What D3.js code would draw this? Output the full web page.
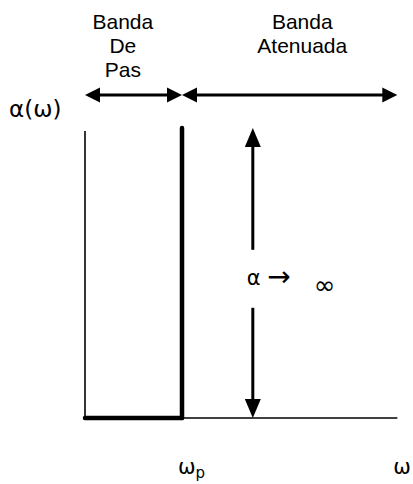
<!DOCTYPE html>
<html>
<head>
<meta charset="utf-8">
<script src="https://cdn.jsdelivr.net/npm/d3@7"></script>
<style>
  body { margin: 0; background: #fff; }
  text { font-family: "Liberation Sans", Arial, sans-serif; fill: #000; }
  text.greek { font-family: "DejaVu Sans", sans-serif; }
</style>
</head>
<body>
<div id="chart"></div>
<script>
// frequency positions (normalised to wp = 1)
const bandEdges = [0, 1, 3.22];
const bandLabels = [["Banda", "De", "Pas"], ["Banda", "Atenuada"]];
const bandLabelW = [0.39, 2.24];
const omegaLabels = [
    {main: "ω", sub: "p", w: 1},
    {main: "ω", sub: "", w: 3.22}
];
// attenuation curve segments: [w0, a0, w1, a1, thick?]
const curveSegs = [
    [0, 0.99, 0, 0, false],
    [0, 0, 1, 0, true],
    [1, 0, 1, 1, true],
    [1, 0, 3.22, 0, false]
];
const infArrowW = 1.73;
const infArrowRange = [1, 0];
const infGap = [0.58, 0.38];
const bandArrowA = 1.114;

const width = 413, height = 484;

const svg = d3.select("#chart").append("svg")
    .attr("width", width)
    .attr("height", height);

const x = d3.scaleLinear().domain([0, 1]).range([85, 182]);
const y = d3.scaleLinear().domain([0, 1]).range([418, 128]);

function head(px, py, dir, len, half) {
    // dir: "l","r","u","d" - tip at (px,py)
    let pts;
    if (dir === "l") pts = [[px, py], [px + len, py - half], [px + len, py + half]];
    if (dir === "r") pts = [[px, py], [px - len, py - half], [px - len, py + half]];
    if (dir === "u") pts = [[px, py], [px - half, py + len], [px + half, py + len]];
    if (dir === "d") pts = [[px, py], [px - half, py - len], [px + half, py - len]];
    svg.append("path")
        .attr("d", d3.line()(pts) + "Z")
        .attr("fill", "#000");
}

// curve
svg.selectAll(".seg")
    .data(curveSegs).enter()
    .append("line")
    .attr("x1", d => x(d[0]))
    .attr("y1", d => y(d[1]))
    .attr("x2", d => x(d[2]))
    .attr("y2", d => y(d[3]))
    .attr("stroke", "#000")
    .attr("stroke-width", d => d[4] ? 4.5 : 1.6)
    .attr("stroke-linecap", d => d[4] ? "round" : "butt");

// band arrows
const ya = y(bandArrowA);
for (let i = 0; i < bandEdges.length - 1; i++) {
    const x0 = x(bandEdges[i]), x1 = x(bandEdges[i + 1]);
    svg.append("line")
        .attr("x1", x0 + 10).attr("x2", x1 - 10)
        .attr("y1", ya).attr("y2", ya)
        .attr("stroke", "#000").attr("stroke-width", 3);
    head(x0, ya, "l", 15, 7.5);
    head(x1, ya, "r", 15, 7.5);

    const cx = x(bandLabelW[i]);
    svg.append("text")
        .attr("x", cx)
        .attr("text-anchor", "middle")
        .attr("font-size", 21)
        .selectAll("tspan")
        .data(bandLabels[i]).enter()
        .append("tspan")
        .attr("x", cx)
        .attr("y", (d, j) => 29 + j * 24)
        .text(d => d);
}

// alpha -> infinity arrow
const xi = x(infArrowW);
svg.append("line")
    .attr("x1", xi).attr("x2", xi)
    .attr("y1", y(infArrowRange[0]) + 15).attr("y2", y(infGap[0]))
    .attr("stroke", "#000").attr("stroke-width", 3);
svg.append("line")
    .attr("x1", xi).attr("x2", xi)
    .attr("y1", y(infGap[1])).attr("y2", y(infArrowRange[1]) - 15)
    .attr("stroke", "#000").attr("stroke-width", 3);
head(xi, y(infArrowRange[0]), "u", 19, 8);
head(xi, y(infArrowRange[1]), "d", 19, 8);

const at = svg.append("text")
    .attr("class", "greek")
    .attr("x", xi - 6).attr("y", 285)
    .attr("font-size", 21)
    .text("α ");
at.append("tspan")
    .attr("font-size", 28)
    .attr("dy", 1)
    .text("→");
svg.append("text")
    .attr("class", "greek")
    .attr("x", xi + 61).attr("y", 294)
    .attr("font-size", 26)
    .text("∞");

// y label
svg.append("text")
    .attr("class", "greek")
    .attr("x", 9).attr("y", 117)
    .attr("font-size", 23)
    .text("α(ω)");

// omega labels
omegaLabels.forEach(function (d) {
    const t = svg.append("text")
        .attr("class", "greek")
        .attr("x", x(d.w) - 4).attr("y", 474)
        .attr("font-size", 21)
        .text(d.main);
    if (d.sub) {
        t.append("tspan")
            .attr("dy", 4)
            .attr("font-size", 15)
            .text(d.sub);
    }
});
</script>
</body>
</html>
